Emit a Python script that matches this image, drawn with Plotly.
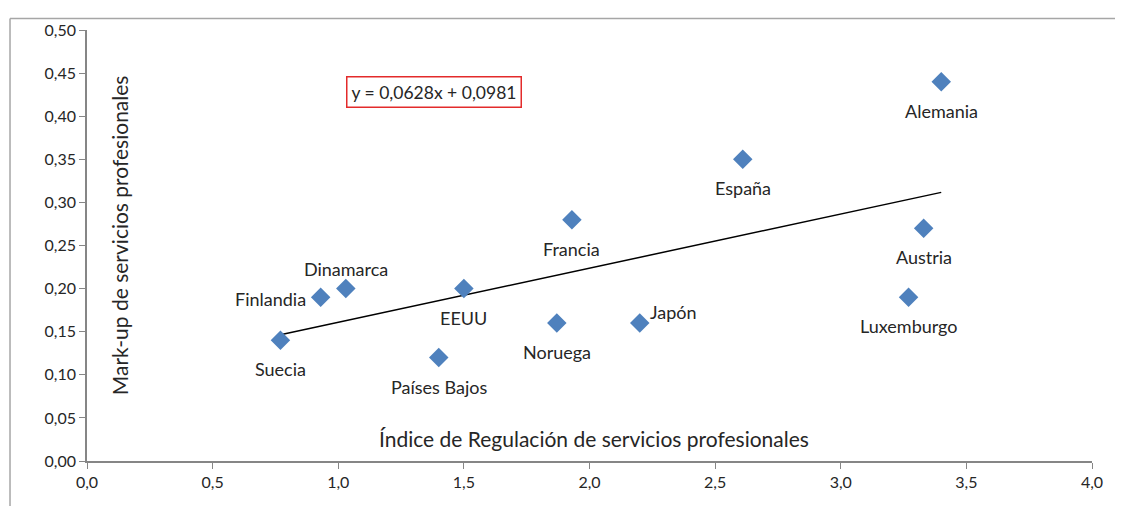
import plotly.graph_objects as go

countries = ["Suecia", "Finlandia", "Dinamarca", "EEUU", "Países Bajos", "Noruega",
             "Francia", "Japón", "España", "Alemania", "Austria", "Luxemburgo"]
regulation = [0.77, 0.93, 1.03, 1.50, 1.40, 1.87, 1.93, 2.20, 2.61, 3.40, 3.33, 3.27]
markup = [0.14, 0.19, 0.20, 0.20, 0.12, 0.16, 0.28, 0.16, 0.35, 0.44, 0.27, 0.19]
trend_slope = 0.0628
trend_intercept = 0.0981
x_ticks = [0.0, 0.5, 1.0, 1.5, 2.0, 2.5, 3.0, 3.5, 4.0]
y_ticks = [0.00, 0.05, 0.10, 0.15, 0.20, 0.25, 0.30, 0.35, 0.40, 0.45, 0.50]

# label placement: (xanchor, yanchor, xshift, yshift)
label_pos = {
    "Finlandia": ("right", "middle", -13, -2),
    "Dinamarca": ("center", "middle", 0, 20),
    "Japón": ("left", "middle", 8, 11),
}
default_pos = ("center", "middle", 0, -29)

FONT = "Lato, 'Open Sans', sans-serif"
TXT = "#262626"

fig = go.Figure()

tx = [min(regulation), max(regulation)]
ty = [trend_slope * v + trend_intercept for v in tx]
fig.add_trace(go.Scatter(x=tx, y=ty, mode="lines",
                         line=dict(color="black", width=1.5), hoverinfo="skip"))

fig.add_trace(go.Scatter(x=regulation, y=markup, mode="markers",
                         marker=dict(symbol="diamond", size=15, color="#4F81BD",
                                     line=dict(width=0)),
                         text=countries, hoverinfo="text"))

annotations = []
for c, xv, yv in zip(countries, regulation, markup):
    xa, ya, xs, ys = label_pos.get(c, default_pos)
    annotations.append(dict(x=xv, y=yv, xref="x", yref="y", text=c, showarrow=False,
                            xanchor=xa, yanchor=ya, xshift=xs, yshift=ys,
                            font=dict(family=FONT, size=18, color=TXT)))

eq_text = "y = " + f"{trend_slope:.4f}".replace(".", ",") + "x + " + f"{trend_intercept:.4f}".replace(".", ",")
annotations.append(dict(x=0.345, y=0.857, xref="paper", yref="paper", text=eq_text,
                        showarrow=False, xanchor="center", yanchor="middle",
                        font=dict(family=FONT, size=17.5, color=TXT),
                        bordercolor="#E32B2B", borderwidth=1.5, borderpad=4,
                        bgcolor="white"))
annotations.append(dict(x=0.504, y=0.053, xref="paper", yref="paper",
                        text="Índice de Regulación de servicios profesionales",
                        showarrow=False, xanchor="center", yanchor="middle",
                        font=dict(family=FONT, size=21, color=TXT)))
annotations.append(dict(x=0.0324, y=0.523, xref="paper", yref="paper",
                        text="Mark-up de servicios profesionales", textangle=-90,
                        showarrow=False, xanchor="center", yanchor="middle",
                        font=dict(family=FONT, size=21, color=TXT)))

fig.update_layout(
    width=1107, height=498,
    margin=dict(l=79, r=13, t=19, b=45),
    paper_bgcolor="white", plot_bgcolor="white",
    showlegend=False,
    annotations=annotations,
    font=dict(family=FONT, color=TXT),
    shapes=[
        dict(type="line", xref="paper", yref="paper", x0=-0.0766, x1=1.05, y0=1.0265, y1=1.0265,
             line=dict(color="#A6A6A6", width=1.5)),
        dict(type="line", xref="paper", yref="paper", x0=-0.0766, x1=-0.0766, y0=1.0265, y1=-0.2,
             line=dict(color="#A6A6A6", width=1.5)),
    ],
)
fig.update_xaxes(range=[0, 4], tickvals=x_ticks,
                 ticktext=[f"{v:.1f}".replace(".", ",") for v in x_ticks],
                 showgrid=False, zeroline=False, showline=True, linecolor="#868686",
                 linewidth=1.5, ticks="outside", ticklen=6, tickcolor="#868686",
                 tickfont=dict(family=FONT, size=16, color=TXT))
fig.update_yaxes(range=[0, 0.5], tickvals=y_ticks,
                 ticktext=[f"{v:.2f}".replace(".", ",") for v in y_ticks],
                 showgrid=False, zeroline=False, showline=True, linecolor="#868686",
                 linewidth=1.5, ticks="outside", ticklen=6, tickcolor="#868686",
                 tickfont=dict(family=FONT, size=16, color=TXT))

fig.write_html("out.html", config={"displayModeBar": False})
